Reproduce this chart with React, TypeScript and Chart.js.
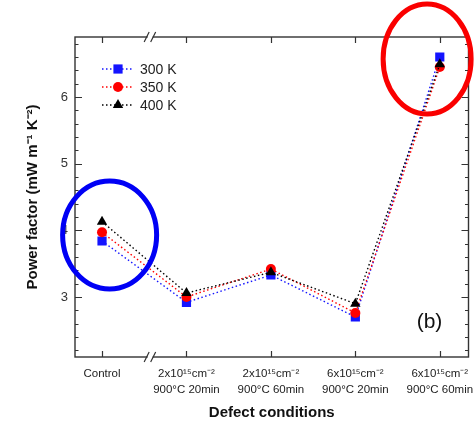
import React, { useEffect, useRef } from 'react';
import { Chart, registerables } from 'chart.js';

Chart.register(...registerables);

// ---- data ----
const doseLabels = ['Control', '2x10¹⁵cm⁻²', '2x10¹⁵cm⁻²', '6x10¹⁵cm⁻²', '6x10¹⁵cm⁻²'];
const annealLabels = ['', '900°C 20min', '900°C 60min', '900°C 20min', '900°C 60min'];
const pf300 = [3.84, 2.92, 3.33, 2.70, 6.60];
const pf350 = [3.97, 3.00, 3.42, 2.76, 6.45];
const pf400 = [4.13, 3.06, 3.37, 2.90, 6.49];
const seriesLabels = ['300 K', '350 K', '400 K'];
const yTickValues = [3, 4, 5, 6];
const yRange = [2.1, 6.9];
const xRange = [-0.32, 4.34];
const axisBreakX = 0.57;
// highlight ellipses (centre in data coordinates)
const highlightCentres = [
  { x: 0.09, y: 3.93, color: 'rgb(0,0,245)' },
  { x: 3.85, y: 6.57, color: 'rgb(250,0,0)' },
];

const seriesColors = ['rgb(20,20,255)', 'rgb(255,0,0)', 'rgb(0,0,0)'];
const seriesPoints = ['rect', 'circle', 'triangle'];
const seriesRadius = [6.5, 5, 6];

const FONT = "'Liberation Sans', Arial, sans-serif";
const AXIS = '#333';

function drawMarker(ctx: CanvasRenderingContext2D, style: string, x: number, y: number, r: number, color: string) {
  ctx.save();
  ctx.fillStyle = color;
  ctx.beginPath();
  if (style === 'rect') {
    const s = Math.SQRT1_2 * r;
    ctx.rect(x - s, y - s, 2 * s, 2 * s);
  } else if (style === 'circle') {
    ctx.arc(x, y, r, 0, Math.PI * 2);
  } else {
    ctx.moveTo(x, y - r);
    ctx.lineTo(x + Math.sin(Math.PI * 2 / 3) * r, y - Math.cos(Math.PI * 2 / 3) * r);
    ctx.lineTo(x + Math.sin(Math.PI * 4 / 3) * r, y - Math.cos(Math.PI * 4 / 3) * r);
    ctx.closePath();
  }
  ctx.fill();
  ctx.restore();
}

const decorPlugin = {
  id: 'decor',
  afterDraw(chart: any) {
    const ctx: CanvasRenderingContext2D = chart.ctx;
    const { left, right, top, bottom } = chart.chartArea;
    const xs = chart.scales.x;
    const ys = chart.scales.y;
    ctx.save();
    // frame
    ctx.strokeStyle = AXIS;
    ctx.lineWidth = 1.4;
    ctx.strokeRect(left, top, right - left, bottom - top);
    // y ticks (inward, both sides)
    ctx.lineWidth = 1.2;
    for (let k = Math.ceil(yRange[0] * 5); k <= Math.floor(yRange[1] * 5); k++) {
      const v = k / 5;
      const py = Math.round(ys.getPixelForValue(v)) + 0.5;
      const major = yTickValues.some((t) => Math.abs(t - v) < 1e-6);
      const len = major ? 7 : 3.5;
      ctx.beginPath();
      ctx.moveTo(left, py);
      ctx.lineTo(left + len, py);
      ctx.moveTo(right, py);
      ctx.lineTo(right - len, py);
      ctx.stroke();
    }
    // x ticks (inward, top and bottom)
    for (let i = 0; i < doseLabels.length; i++) {
      const px = Math.round(xs.getPixelForValue(i)) + 0.5;
      ctx.beginPath();
      ctx.moveTo(px, top);
      ctx.lineTo(px, top + 6);
      ctx.moveTo(px, bottom);
      ctx.lineTo(px, bottom - 6);
      ctx.stroke();
    }
    // axis break marks
    const bx = xs.getPixelForValue(axisBreakX);
    [top, bottom].forEach((yy) => {
      ctx.fillStyle = '#fff';
      ctx.fillRect(bx - 2.5, yy - 2, 5, 4);
      ctx.strokeStyle = AXIS;
      ctx.lineWidth = 1.2;
      ctx.beginPath();
      ctx.moveTo(bx - 6, yy + 5);
      ctx.lineTo(bx - 1, yy - 5);
      ctx.moveTo(bx + 0.5, yy + 5);
      ctx.lineTo(bx + 5.5, yy - 5);
      ctx.stroke();
    });
    // legend
    const lx = left + 27;
    const ly0 = top + 32;
    const rowH = 18;
    chart.data.datasets.forEach((ds: any, i: number) => {
      const yy = ly0 + i * rowH;
      ctx.strokeStyle = seriesColors[i];
      ctx.lineWidth = 1.3;
      ctx.setLineDash([1.5, 2.5]);
      ctx.beginPath();
      ctx.moveTo(lx, yy);
      ctx.lineTo(lx + 31, yy);
      ctx.stroke();
      ctx.setLineDash([]);
      drawMarker(ctx, seriesPoints[i], lx + 16, yy, seriesRadius[i], seriesColors[i]);
      ctx.fillStyle = '#222';
      ctx.font = `14px ${FONT}`;
      ctx.textBaseline = 'middle';
      ctx.textAlign = 'left';
      ctx.fillText(ds.label, lx + 38, yy + 1);
    });
    // panel label
    ctx.fillStyle = '#111';
    ctx.font = `21px ${FONT}`;
    ctx.textAlign = 'center';
    ctx.textBaseline = 'middle';
    ctx.fillText('(b)', right - 39, bottom - 35);
    // highlight ellipses
    ctx.lineWidth = 5;
    highlightCentres.forEach((h, i) => {
      const cx = xs.getPixelForValue(h.x);
      const cy = ys.getPixelForValue(h.y);
      ctx.strokeStyle = h.color;
      ctx.beginPath();
      if (i === 0) ctx.ellipse(cx, cy, 47, 54, 0, 0, Math.PI * 2);
      else ctx.ellipse(cx, cy, 44, 55, 0, 0, Math.PI * 2);
      ctx.stroke();
    });
    ctx.restore();
  },
};

export default function App() {
  const ref = useRef<HTMLCanvasElement | null>(null);
  useEffect(() => {
    document.body.style.margin = '0';
    const series = [pf300, pf350, pf400];
    const chart = new Chart(ref.current as HTMLCanvasElement, {
      type: 'line',
      data: {
        datasets: series.map((vals, i) => ({
          label: seriesLabels[i],
          data: vals.map((v, j) => ({ x: j, y: v })),
          borderColor: seriesColors[i],
          backgroundColor: seriesColors[i],
          borderWidth: 1.4,
          borderDash: [1.5, 2.5],
          pointStyle: seriesPoints[i] as any,
          pointRadius: seriesRadius[i],
          pointBorderWidth: 0,
          pointBackgroundColor: seriesColors[i],
          tension: 0,
          order: 3 - i,
        })),
      },
      options: {
        animation: false,
        responsive: false,
        devicePixelRatio: 1,
        layout: { padding: { top: 37, right: 5, left: 0, bottom: 0 } },
        plugins: { legend: { display: false }, tooltip: { enabled: false } },
        scales: {
          x: {
            type: 'linear',
            min: xRange[0],
            max: xRange[1],
            afterBuildTicks: (s: any) => {
              s.ticks = doseLabels.map((_, i) => ({ value: i }));
            },
            afterFit: (s: any) => {
              s.height = 66;
              s.paddingLeft = 0;
              s.paddingRight = 0;
            },
            grid: { display: false, drawTicks: false },
            border: { display: false },
            ticks: {
              padding: 8,
              autoSkip: false,
              maxRotation: 0,
              color: '#222',
              font: { family: FONT, size: 11.5, lineHeight: 1.45 },
              callback: (v: any) => {
                const i = Math.round(Number(v));
                return annealLabels[i] ? [doseLabels[i], annealLabels[i]] : doseLabels[i];
              },
            },
            title: {
              display: true,
              text: 'Defect conditions',
              color: '#111',
              font: { family: FONT, size: 15, weight: 'bold' },
              padding: { top: 0, bottom: 1 },
            },
          },
          y: {
            min: yRange[0],
            max: yRange[1],
            afterBuildTicks: (s: any) => {
              s.ticks = yTickValues.map((v) => ({ value: v }));
            },
            afterFit: (s: any) => {
              s.width = 75;
              s.paddingTop = 0;
              s.paddingBottom = 0;
            },
            grid: { display: false, drawTicks: false },
            border: { display: false },
            ticks: {
              padding: 7,
              color: '#333',
              font: { family: FONT, size: 13 },
            },
            title: {
              display: true,
              text: 'Power factor (mW m⁻¹ K⁻²)',
              color: '#111',
              font: { family: FONT, size: 15, weight: 'bold' },
              padding: { top: 24, bottom: 0 },
            },
          },
        },
      },
      plugins: [decorPlugin],
    });
    return () => chart.destroy();
  }, []);
  return (
    <div style={{ width: 475, height: 423, background: '#fff' }}>
      <canvas ref={ref} width={475} height={423} />
    </div>
  );
}
